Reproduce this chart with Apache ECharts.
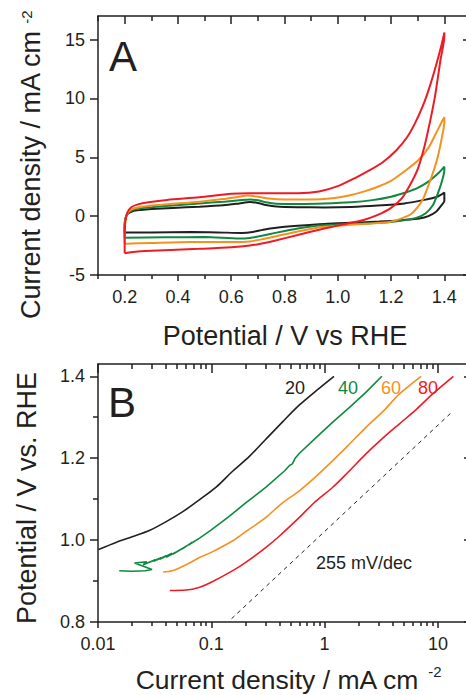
<!DOCTYPE html>
<html>
<head>
<meta charset="utf-8">
<script src="https://cdn.jsdelivr.net/npm/echarts@6/dist/echarts.min.js"></script>
<style>
  html, body { margin: 0; padding: 0; background: #fff; }
  #chart { width: 466px; height: 695px; }
</style>
</head>
<body>
<div id="chart"></div>
<script>
// panel A: cyclic voltammograms, [potential V vs RHE, current density mA cm-2]
const cvBlack = [
  [0.2, -1.4], [0.2, -0.8], [0.203, -0.2], [0.212, 0.2], [0.23, 0.42], [0.26, 0.52], [0.3, 0.6],
  [0.38, 0.7], [0.48, 0.8], [0.57, 0.92], [0.63, 1.08], [0.67, 1.2], [0.7, 1.12], [0.73, 0.95],
  [0.77, 0.82], [0.85, 0.76], [0.95, 0.74], [1.05, 0.78], [1.15, 0.9], [1.25, 1.08], [1.32, 1.36],
  [1.37, 1.62], [1.4, 2.0],
  [1.4, 1.3], [1.385, 0.8], [1.369, 0.37], [1.34, 0.0], [1.306, -0.2], [1.25, -0.32], [1.156, -0.46],
  [1.05, -0.56], [0.95, -0.66], [0.85, -0.82], [0.77, -0.98], [0.72, -1.15], [0.68, -1.35],
  [0.64, -1.43], [0.55, -1.38], [0.45, -1.35], [0.3, -1.38], [0.2, -1.4]
];
const cvGreen = [
  [0.2, -1.84], [0.2, -1.0], [0.203, -0.2], [0.212, 0.25], [0.23, 0.52], [0.26, 0.66], [0.3, 0.76],
  [0.38, 0.9], [0.48, 1.08], [0.57, 1.22], [0.63, 1.35], [0.67, 1.42], [0.7, 1.35], [0.73, 1.18],
  [0.77, 1.06], [0.85, 1.04], [0.95, 1.08], [1.05, 1.18], [1.13, 1.36], [1.2, 1.65], [1.26, 2.05],
  [1.3, 2.4], [1.344, 3.0], [1.38, 3.7], [1.4, 4.2],
  [1.4, 3.9], [1.39, 2.9], [1.375, 1.9], [1.356, 0.9], [1.33, 0.25], [1.294, -0.15], [1.2, -0.5],
  [1.1, -0.62], [1.0, -0.72], [0.93, -0.8], [0.85, -1.05], [0.77, -1.4], [0.72, -1.65],
  [0.67, -1.85], [0.63, -1.9], [0.5, -1.78], [0.35, -1.8], [0.2, -1.84]
];
const cvOrange = [
  [0.2, -2.35], [0.2, -1.2], [0.203, -0.3], [0.212, 0.3], [0.23, 0.62], [0.26, 0.78], [0.3, 0.9],
  [0.38, 1.05], [0.48, 1.22], [0.57, 1.45], [0.63, 1.65], [0.66, 1.75], [0.7, 1.65], [0.74, 1.5],
  [0.8, 1.42], [0.9, 1.42], [0.97, 1.5], [1.05, 1.8], [1.1, 2.1], [1.15, 2.5], [1.2, 3.0],
  [1.25, 3.8], [1.3, 4.7], [1.34, 5.8], [1.37, 7.1], [1.39, 8.0], [1.4, 8.4],
  [1.4, 8.0], [1.39, 6.6], [1.375, 5.0], [1.356, 3.6], [1.335, 2.3], [1.319, 1.4], [1.29, 0.5],
  [1.269, 0.08], [1.194, -0.5], [1.1, -0.65], [1.0, -0.82], [0.93, -0.96], [0.85, -1.3],
  [0.77, -1.7], [0.72, -1.95], [0.67, -2.15], [0.6, -2.2], [0.45, -2.2], [0.3, -2.28], [0.2, -2.35]
];
const cvRed = [
  [0.2, -3.15], [0.2, -1.5], [0.203, -0.4], [0.21, 0.3], [0.225, 0.75], [0.25, 1.0], [0.29, 1.18],
  [0.36, 1.38], [0.48, 1.6], [0.6, 1.9], [0.67, 1.95], [0.75, 1.95], [0.85, 1.95], [0.93, 2.1],
  [1.0, 2.55], [1.07, 3.3], [1.12, 3.9], [1.17, 4.6], [1.22, 5.6], [1.26, 6.7], [1.29, 7.9],
  [1.32, 9.4], [1.345, 11.0], [1.37, 12.9], [1.39, 14.6], [1.4, 15.6],
  [1.4, 15.3], [1.385, 13.2], [1.365, 10.2], [1.345, 7.9], [1.325, 5.9], [1.3, 4.0], [1.27, 2.6],
  [1.24, 1.5], [1.2, 0.7], [1.15, 0.1], [1.1, -0.3], [1.0, -0.8], [0.93, -1.15], [0.85, -1.6],
  [0.77, -2.05], [0.72, -2.3], [0.67, -2.5], [0.6, -2.65], [0.48, -2.78], [0.35, -2.9],
  [0.25, -3.0], [0.2, -3.15]
];

// panel B: Tafel plots, [current density mA cm-2, potential V vs RHE]
const tafel20 = [
  [0.0101, 0.977], [0.0146, 0.995], [0.02, 1.008], [0.0287, 1.024], [0.04, 1.045], [0.0565, 1.07],
  [0.08, 1.1], [0.111, 1.13], [0.15, 1.165], [0.218, 1.205], [0.3, 1.245], [0.43, 1.29],
  [0.6, 1.33], [0.845, 1.365], [1.21, 1.4]
];
const tafel40 = [
  [0.0154, 0.925], [0.02, 0.924], [0.026, 0.925], [0.03, 0.928], [0.021, 0.944], [0.027, 0.947],
  [0.025, 0.94], [0.032, 0.952], [0.028, 0.945], [0.036, 0.957], [0.031, 0.948], [0.04, 0.962],
  [0.035, 0.953], [0.045, 0.968], [0.04, 0.958], [0.052, 0.975], [0.046, 0.966], [0.06, 0.985],
  [0.055, 0.978], [0.068, 0.995], [0.063, 0.988], [0.08, 1.006], [0.1, 1.025], [0.141, 1.056],
  [0.2, 1.09], [0.306, 1.13], [0.447, 1.17], [0.49, 1.182], [0.52, 1.186], [0.55, 1.2],
  [0.6, 1.212], [0.845, 1.251], [1.2, 1.29], [1.66, 1.324], [2.3, 1.36], [3.2, 1.4]
];
const tafel60 = [
  [0.0376, 0.922], [0.045, 0.925], [0.06, 0.94], [0.0793, 0.958], [0.1, 0.97], [0.156, 0.999],
  [0.2, 1.02], [0.306, 1.056], [0.4, 1.085], [0.602, 1.121], [0.8, 1.15], [1.18, 1.194],
  [1.6, 1.23], [2.33, 1.276], [3.3, 1.315], [4.58, 1.357], [7.1, 1.4]
];
const tafel80 = [
  [0.043, 0.877], [0.06, 0.878], [0.079, 0.885], [0.1, 0.897], [0.156, 0.926], [0.2, 0.945],
  [0.306, 0.983], [0.4, 1.01], [0.602, 1.056], [0.8, 1.09], [1.18, 1.129], [1.6, 1.165],
  [2.33, 1.211], [3.3, 1.25], [4.58, 1.284], [6.5, 1.32], [9.0, 1.357], [13.7, 1.4]
];
const slopeLine = [[0.151, 0.808], [13.7, 1.316]];

// ticks
const aMajorX = [0.2, 0.4, 0.6, 0.8, 1.0, 1.2, 1.4];
const aMinorX = [0.1, 0.3, 0.5, 0.7, 0.9, 1.1, 1.3, 1.5];
const aMajorY = [-5, 0, 5, 10, 15];
const bMajorX = [0.01, 0.1, 1, 10];
const bMinorX = [0.02, 0.03, 0.04, 0.05, 0.06, 0.07, 0.08, 0.09,
  0.2, 0.3, 0.4, 0.5, 0.6, 0.7, 0.8, 0.9, 2, 3, 4, 5, 6, 7, 8, 9, 20];
const bMajorY = [0.8, 1.0, 1.2, 1.4];
const bMinorY = [0.9, 1.1, 1.3];

const font = '"Liberation Sans", Arial, Helvetica, sans-serif';
const ink = '#231f20';
const cRed = '#ec1c24';
const cOrange = '#f7901e';
const cGreen = '#0e8a3f';

function frameAxis(o) {
  return {
    type: o.type || 'value',
    gridIndex: o.grid,
    position: o.pos,
    min: o.min,
    max: o.max,
    logBase: 10,
    axisLine: { show: o.line, onZero: false, lineStyle: { color: ink, width: 1.5 } },
    axisTick: {
      show: true, inside: o.inside, length: o.len, customValues: o.ticks,
      lineStyle: { color: ink, width: 1.5 }
    },
    axisLabel: o.labels
      ? { show: true, customValues: o.labels, formatter: o.fmt, margin: 13,
          color: ink, fontSize: 18, fontFamily: font }
      : { show: false },
    splitLine: { show: false },
    minorTick: { show: false }
  };
}

const fmt1 = (v) => (+v).toFixed(1);
const fmtLog = (v) => String(+(+v).toPrecision(2));

const xAxes = [
  // A
  frameAxis({ grid: 0, pos: 'bottom', min: 0.1, max: 1.5, line: true, ticks: aMajorX, len: 6, labels: aMajorX, fmt: fmt1 }),
  frameAxis({ grid: 0, pos: 'bottom', min: 0.1, max: 1.5, line: false, ticks: aMinorX, len: 4 }),
  frameAxis({ grid: 0, pos: 'top', min: 0.1, max: 1.5, line: true, ticks: aMajorX, len: 8, inside: true }),
  frameAxis({ grid: 0, pos: 'top', min: 0.1, max: 1.5, line: false, ticks: aMinorX, len: 5, inside: true }),
  // B
  frameAxis({ grid: 1, type: 'log', pos: 'bottom', min: 0.01, max: 20, line: true, ticks: bMajorX, len: 6, labels: bMajorX, fmt: fmtLog }),
  frameAxis({ grid: 1, type: 'log', pos: 'bottom', min: 0.01, max: 20, line: false, ticks: bMinorX, len: 4 }),
  frameAxis({ grid: 1, type: 'log', pos: 'top', min: 0.01, max: 20, line: true, ticks: bMajorX, len: 9, inside: true }),
  frameAxis({ grid: 1, type: 'log', pos: 'top', min: 0.01, max: 20, line: false, ticks: bMinorX, len: 5, inside: true })
];
const yAxes = [
  frameAxis({ grid: 0, pos: 'left', min: -5, max: 17, line: true, ticks: aMajorY, len: 8, labels: aMajorY, fmt: (v) => String(v) }),
  frameAxis({ grid: 0, pos: 'right', min: -5, max: 17, line: true, ticks: aMajorY, len: 8, inside: true }),
  frameAxis({ grid: 1, pos: 'left', min: 0.8, max: 1.43, line: true, ticks: bMajorY, len: 8, labels: bMajorY, fmt: fmt1 }),
  frameAxis({ grid: 1, pos: 'left', min: 0.8, max: 1.43, line: false, ticks: bMinorY, len: 5 }),
  frameAxis({ grid: 1, pos: 'right', min: 0.8, max: 1.43, line: true, ticks: bMajorY, len: 8, inside: true }),
  frameAxis({ grid: 1, pos: 'right', min: 0.8, max: 1.43, line: false, ticks: bMinorY, len: 5, inside: true })
];

function cv(data, color) {
  return {
    type: 'line', xAxisIndex: 0, yAxisIndex: 0, data: data, showSymbol: false,
    smooth: 0.25, lineStyle: { color: color, width: 2 }, silent: true
  };
}
function tafel(data, color, smooth) {
  return {
    type: 'line', xAxisIndex: 4, yAxisIndex: 2, data: data, showSymbol: false,
    smooth: smooth, lineStyle: { color: color, width: 1.6 }, silent: true
  };
}

function txt(x, y, text, size, color, rot) {
  return {
    type: 'text', x: x, y: y, rotation: rot || 0, silent: true,
    style: {
      text: text, fontSize: size, fontFamily: font, fill: color,
      align: 'center', verticalAlign: 'middle'
    }
  };
}

const option = {
  animation: false,
  backgroundColor: '#fff',
  grid: [
    { left: 98, top: 16, width: 373, height: 259, outerBoundsMode: 'none' },
    { left: 98, top: 364, width: 374, height: 258, outerBoundsMode: 'none' }
  ],
  xAxis: xAxes,
  yAxis: yAxes,
  series: [
    cv(cvBlack, ink),
    cv(cvGreen, cGreen),
    cv(cvOrange, cOrange),
    cv(cvRed, cRed),
    tafel(tafel20, ink, 0.3),
    tafel(tafel40, cGreen, false),
    tafel(tafel60, cOrange, 0.3),
    tafel(tafel80, cRed, 0.3),
    {
      type: 'line', xAxisIndex: 4, yAxisIndex: 2, data: slopeLine, showSymbol: false,
      lineStyle: { color: ink, width: 1, type: [4, 4] }, silent: true
    }
  ],
  graphic: [
    txt(123, 56, 'A', 42, ink),
    txt(122, 402, 'B', 42, ink),
    txt(285, 336, 'Potential / V vs RHE', 27, ink),
    txt(31, 175, 'Current density / mA cm', 27, ink, Math.PI / 2),
    txt(26, 17, '-2', 15, ink, Math.PI / 2),
    txt(27, 498, 'Potential / V vs. RHE', 27, ink, Math.PI / 2),
    txt(277, 680, 'Current density / mA cm', 26.5, ink),
    txt(435, 671, '-2', 15, ink),
    txt(295, 388, '20', 18, ink),
    txt(348, 388, '40', 18, cGreen),
    txt(391, 388, '60', 18, cOrange),
    txt(428, 388, '80', 18, cRed),
    txt(364, 563, '255 mV/dec', 18, ink)
  ]
};

const chart = echarts.init(document.getElementById('chart'), null, { renderer: 'svg' });
chart.setOption(option);
</script>
</body>
</html>
